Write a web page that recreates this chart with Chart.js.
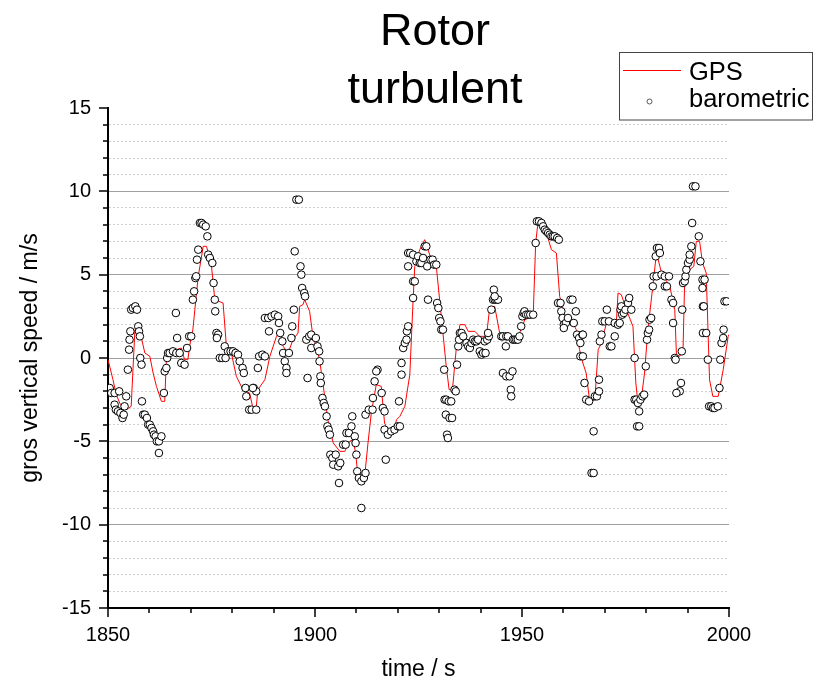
<!DOCTYPE html>
<html>
<head>
<meta charset="utf-8">
<title>Rotor turbulent</title>
<script src="https://cdn.jsdelivr.net/npm/chart.js@4.4.0/dist/chart.umd.min.js"></script>
<style>
  html, body { margin: 0; padding: 0; background: #fff; }
  #chart { display: block; }
</style>
</head>
<body>
<canvas id="chart" width="814" height="683"></canvas>
<script>
const FONT = '"Liberation Sans", Arial, sans-serif';

const titleLines = ['Rotor', 'turbulent'];
const xTitle = 'time / s';
const yTitle = 'gros vertical speed / m/s';
const seriesNames = ['GPS', 'barometric'];

// GPS: time (s) / vertical speed (m/s)
const gpsTime = [
  1850.0,1851.2,1852.0,1853.0,1854.4,1855.6,1856.5,1857.7,1858.9,1860.1,
  1860.9,1861.7,1862.9,1863.7,1864.1,1866.5,1867.7,1868.5,1869.3,1869.7,
  1870.5,1871.3,1871.8,1873.0,1873.8,1875.0,1875.8,1877.8,1878.6,1879.8,
  1881.0,1882.6,1884.2,1885.0,1885.8,1886.2,1887.9,1889.1,1890.7,1891.5,
  1892.3,1893.5,1894.7,1895.9,1896.3,1897.1,1897.5,1898.7,1899.5,1900.3,
  1901.1,1901.9,1903.1,1904.4,1906.0,1907.2,1908.4,1909.2,1909.8,1910.4,
  1911.2,1912.0,1912.8,1913.6,1914.8,1916.0,1916.8,1918.0,1918.8,1919.7,
  1920.5,1921.7,1922.9,1923.7,1924.1,1925.3,1926.5,1927.3,1928.1,1929.3,
  1930.1,1930.9,1931.7,1932.4,1933.2,1934.1,1935.0,1936.2,1937.0,1938.6,
  1939.8,1941.4,1942.2,1943.4,1944.6,1946.2,1948.2,1949.4,1950.7,1952.7,
  1953.3,1953.9,1955.1,1956.5,1957.1,1958.3,1959.1,1959.5,1960.3,1961.5,
  1963.1,1963.9,1964.7,1965.5,1966.2,1966.8,1967.6,1968.4,1969.2,1970.4,
  1972.0,1972.8,1973.2,1974.0,1975.2,1976.8,1977.5,1978.0,1978.8,1979.6,
  1980.4,1981.6,1982.3,1982.9,1983.7,1985.7,1986.9,1987.3,1988.1,1988.9,
  1989.3,1990.5,1991.5,1992.1,1992.9,1993.6,1994.5,1995.3,1996.1,1997.4,
  1998.6,1999.8,2000.0
];
const gpsSpeed = [
  -0.1,-1.3,-2.2,-2.8,-3.1,-2.9,1.7,1.6,0.3,0.1,
  -0.9,-1.7,-2.6,-2.6,-0.1,0.5,0.6,-0.1,-0.1,0.7,
  1.7,3.7,4.9,6.7,6.7,5.5,3.5,3.3,0.7,0.3,
  -1.1,-1.9,-2.1,-3.0,-3.0,-1.9,-1.3,0.1,1.3,1.6,
  0.7,0.3,1.1,1.5,3.1,3.2,3.5,2.8,1.3,0.7,
  -0.1,-1.5,-3.7,-5.1,-5.6,-5.6,-5.0,-4.9,-5.7,-7.1,
  -7.3,-7.1,-5.1,-3.3,-1.6,-1.7,-3.9,-4.6,-4.5,-3.7,
  -3.5,-2.9,-1.0,3.5,5.5,6.5,7.1,6.5,5.9,5.5,
  3.5,1.5,-0.5,-1.9,-1.9,0.5,2.0,2.0,1.6,1.6,
  1.3,1.3,3.0,3.1,1.5,1.3,1.1,1.5,2.3,2.5,
  6.9,8.2,8.2,7.0,6.5,6.3,3.7,3.3,2.5,2.5,
  1.7,0.5,-0.3,-0.9,-2.3,-2.6,-2.5,0.5,0.9,2.1,
  2.2,2.2,3.9,3.8,2.9,1.9,-1.5,-2.7,-2.5,-0.9,
  1.7,4.3,5.9,5.9,5.1,4.3,2.9,0.2,0.1,0.5,
  4.7,5.3,5.5,7.0,7.0,5.7,5.1,-1.3,-2.3,-2.3,
  -0.7,1.3,1.4
];

// barometric: time (s) / vertical speed (m/s)
const baroTime = [
  1850.4,1850.8,1851.6,1852.7,1851.6,1851.9,1852.4,1853.0,1853.5,1853.8,
  1854.0,1854.4,1854.8,1855.1,1855.2,1855.4,1855.6,1856.0,1856.6,1857.0,
  1857.3,1857.5,1857.7,1857.8,1858.1,1858.2,1858.5,1858.9,1859.4,1859.7,
  1860.1,1860.5,1860.9,1861.1,1861.5,1861.8,1862.3,1862.9,1862.3,1863.5,
  1863.7,1864.1,1864.3,1864.5,1864.9,1865.7,1866.5,1867.3,1866.4,1866.7,
  1867.7,1868.5,1869.1,1869.6,1870.1,1870.5,1870.8,1871.1,1871.3,1871.5,
  1871.8,1872.2,1872.6,1873.0,1873.6,1874.0,1874.2,1874.6,1875.2,1875.5,
  1875.8,1875.9,1876.2,1876.6,1876.3,1877.0,1877.6,1878.2,1878.4,1879.0,
  1879.6,1880.2,1880.8,1881.4,1881.8,1882.5,1882.8,1883.2,1883.4,1884.1,
  1884.7,1885.2,1885.8,1885.8,1886.2,1886.5,1885.0,1887.3,1887.9,1887.9,
  1888.7,1889.5,1890.3,1891.1,1888.9,1891.3,1891.6,1892.1,1892.3,1892.7,
  1893.1,1893.1,1893.7,1894.3,1894.5,1894.9,1895.1,1895.5,1896.1,1896.5,
  1896.7,1896.9,1897.4,1897.6,1897.9,1898.6,1899.1,1899.1,1900.2,1900.6,
  1901.0,1898.2,1901.1,1901.3,1901.4,1901.8,1902.1,1902.4,1902.8,1903.0,
  1903.3,1903.6,1903.7,1904.2,1904.4,1905.0,1905.6,1906.1,1905.8,1906.8,
  1907.4,1907.6,1908.2,1908.8,1909.0,1909.6,1909.8,1910.0,1910.2,1910.6,
  1911.2,1911.8,1912.2,1911.2,1912.2,1913.0,1913.9,1914.0,1914.4,1915.1,
  1914.8,1916.1,1916.4,1916.8,1916.8,1917.6,1918.4,1919.2,1920.0,1917.1,
  1920.3,1920.9,1920.9,1921.3,1921.7,1922.1,1922.2,1922.5,1922.5,1922.5,
  1920.5,1923.0,1923.7,1923.7,1923.7,1924.1,1924.5,1924.9,1925.3,1925.7,
  1926.1,1926.5,1926.9,1927.1,1927.3,1927.9,1928.4,1928.8,1929.3,1929.5,
  1929.8,1930.0,1930.3,1930.5,1930.9,1931.2,1931.3,1931.7,1932.3,1932.9,
  1931.6,1932.5,1933.1,1931.9,1932.1,1933.7,1934.0,1934.3,1934.6,1934.8,
  1935.0,1935.4,1935.8,1936.6,1937.0,1937.4,1937.8,1938.2,1938.6,1939.0,
  1939.4,1939.8,1940.2,1940.6,1941.2,1941.0,1941.6,1942.0,1941.8,1942.6,
  1943.0,1943.4,1943.8,1944.2,1943.2,1943.4,1945.0,1945.4,1945.4,1946.2,
  1947.0,1946.1,1946.2,1946.6,1947.3,1947.4,1947.7,1947.8,1948.2,1948.6,
  1949.0,1949.4,1949.8,1950.1,1950.4,1950.6,1951.0,1951.5,1952.0,1952.7,
  1953.3,1953.6,1954.1,1954.7,1955.1,1955.5,1955.9,1956.3,1956.7,1957.1,
  1957.5,1957.9,1958.5,1958.9,1958.7,1959.3,1959.5,1959.8,1960.1,1960.6,
  1961.1,1960.1,1961.7,1962.2,1962.5,1963.0,1963.3,1963.8,1964.1,1964.6,
  1964.7,1964.1,1964.7,1965.1,1965.5,1966.2,1967.3,1967.6,1968.1,1968.6,
  1968.6,1968.8,1969.2,1969.4,1970.0,1970.5,1971.0,1971.2,1971.6,1972.4,
  1972.4,1973.2,1973.6,1973.8,1974.0,1974.2,1974.6,1975.0,1975.6,1975.9,
  1976.4,1977.2,1977.2,1977.6,1978.0,1978.3,1978.6,1979.1,1979.5,1977.8,
  1978.3,1979.9,1980.2,1980.4,1980.7,1980.8,1981.2,1981.6,1981.8,1982.3,
  1982.6,1983.1,1983.3,1982.5,1983.7,1984.5,1985.5,1984.5,1985.0,1986.1,
  1986.5,1986.5,1986.9,1987.1,1988.1,1987.3,1988.4,1988.6,1988.7,1988.9,
  1989.3,1989.5,1989.7,1990.1,1990.5,1990.5,1990.9,1991.1,1991.3,1991.9,
  1992.7,1993.1,1993.6,1994.1,1993.6,1993.7,1993.9,1993.7,1994.5,1994.9,
  1995.2,1995.7,1996.1,1996.5,1997.3,1997.7,1997.9,1998.2,1998.6,1998.7,
  1998.9,1999.4,1966.8,1967.3
];
const baroSpeed = [
  -1.8,-2.1,-2.1,-2.0,-2.8,-3.1,-3.2,-3.3,-3.6,-3.4,
  -2.9,-2.3,-0.7,0.5,1.1,1.6,2.9,3.0,3.1,2.9,
  1.9,1.6,1.3,0.0,-0.4,-2.6,-3.4,-3.4,-3.6,-4.0,
  -4.0,-4.2,-4.4,-4.6,-4.7,-5.0,-5.0,-4.7,-5.7,-2.1,
  -0.8,-0.6,0.0,0.3,0.3,0.4,0.3,0.3,2.7,1.2,
  -0.3,-0.4,0.6,1.3,1.3,3.5,4.0,4.8,4.9,5.9,
  6.5,8.1,8.1,8.0,7.9,7.3,6.2,6.0,5.7,4.5,
  3.5,2.8,1.5,1.4,1.2,0.0,0.0,0.7,0.0,0.4,
  0.4,0.4,0.3,0.2,-0.2,-0.6,-0.9,-1.8,-2.3,-3.1,
  -3.1,-1.8,-2.0,-3.1,-0.6,0.1,-1.8,0.2,0.1,2.4,
  2.4,2.5,2.6,2.5,1.6,2.1,1.5,1.0,0.3,-0.2,
  -0.6,-0.9,0.3,1.2,1.9,2.9,6.4,9.5,9.5,5.5,
  5.0,4.2,3.9,3.7,1.1,1.3,1.4,0.6,1.2,0.7,
  0.4,-1.2,-0.2,-1.1,-1.5,-2.4,-2.7,-2.9,-3.5,-4.1,
  -4.3,-4.6,-5.8,-6.0,-6.4,-5.8,-6.5,-6.3,-7.5,-5.2,
  -5.2,-4.5,-4.5,-4.1,-3.5,-4.7,-5.1,-5.8,-6.8,-7.2,
  -7.4,-7.2,-6.9,-9.0,-3.4,-3.1,-3.1,-2.4,-1.4,-0.7,
  -0.8,-2.1,-3.0,-3.2,-4.3,-4.6,-4.4,-4.3,-4.1,-6.1,
  -2.6,-1.0,-0.3,0.6,0.9,1.1,1.6,1.9,5.5,6.3,
  -4.1,6.3,6.2,4.6,3.6,4.6,5.8,6.1,5.7,5.7,
  6.0,6.7,6.7,5.5,3.5,5.9,5.9,5.6,5.6,3.3,
  3.0,2.4,2.2,1.7,1.7,-0.7,-2.5,-2.5,-2.6,-2.6,
  -3.4,-3.6,-3.6,-4.6,-4.8,-1.9,-2.0,-0.4,0.7,1.1,
  1.5,1.5,1.3,0.9,0.7,0.6,0.9,1.1,1.0,1.0,
  1.1,0.4,0.2,0.3,0.3,1.0,1.1,1.3,1.5,2.9,
  3.5,3.5,3.5,3.5,4.1,3.7,1.3,1.3,-0.9,-1.1,
  -1.1,0.7,1.3,1.3,-1.9,-2.3,-0.8,1.1,1.1,1.1,
  1.1,1.3,1.9,2.5,2.7,2.8,2.6,2.6,2.6,2.6,
  6.9,8.2,8.2,8.1,7.9,7.7,7.6,7.5,7.4,7.3,
  7.3,7.3,7.2,7.1,3.3,3.3,2.8,2.4,2.0,2.1,
  2.4,1.8,3.5,3.5,2.1,2.8,1.4,1.2,0.9,1.4,
  1.4,0.1,0.1,-1.5,-2.5,-2.6,-4.4,-2.3,-2.3,-2.0,
  -1.3,1.0,1.4,2.2,2.2,2.9,2.2,0.7,0.7,1.3,
  2.1,2.0,2.1,2.9,3.1,2.6,2.7,2.9,3.3,3.6,
  2.9,0.0,-2.5,-2.5,-2.7,-3.2,-2.5,-2.3,-2.2,-4.1,
  -4.1,-0.5,1.1,1.5,1.7,2.3,2.4,4.3,4.9,6.1,
  6.6,6.6,6.3,4.9,5.0,4.9,4.9,4.3,4.3,3.5,
  3.3,2.1,0.0,-0.1,-2.0,-2.1,-1.5,0.4,2.9,4.5,
  4.6,4.9,5.3,5.7,5.9,6.2,6.7,8.1,10.3,10.3,
  7.3,5.8,4.7,4.7,4.2,3.1,3.1,1.5,1.5,-0.1,
  -2.9,-2.9,-3.0,-3.0,-2.9,-1.8,-0.1,0.9,1.2,1.7,
  3.4,3.4,-6.9,-6.9
];

const toPoints = (xs, ys) => xs.map((x, i) => ({ x, y: ys[i] }));

// titulo, leyenda y marcas de eje dibujados a mano
const extras = {
  id: 'extras',
  afterDraw(chart) {
    const { ctx, chartArea, scales } = chart;
    ctx.save();

    // marcas de eje (mayores/menores)
    ctx.strokeStyle = '#000';
    ctx.lineWidth = 1.5;
    ctx.beginPath();
    scales.y.ticks.forEach((t) => {
      const py = Math.round(scales.y.getPixelForValue(t.value));
      const len = t.value % 5 === 0 ? 9 : 5;
      ctx.moveTo(chartArea.left - len, py);
      ctx.lineTo(chartArea.left, py);
    });
    scales.x.ticks.forEach((t) => {
      const px = Math.round(scales.x.getPixelForValue(t.value));
      const len = t.value % 50 === 0 ? 9 : 5;
      ctx.moveTo(px, chartArea.bottom);
      ctx.lineTo(px, chartArea.bottom + len);
    });
    ctx.stroke();

    // titulo
    ctx.fillStyle = '#000';
    ctx.textAlign = 'center';
    ctx.textBaseline = 'alphabetic';
    ctx.font = '45px ' + FONT;
    ctx.fillText(titleLines[0], 435, 45);
    ctx.fillText(titleLines[1], 435, 103);

    // leyenda
    ctx.fillStyle = '#fff';
    ctx.fillRect(619.5, 52.5, 193, 67.5);
    ctx.strokeStyle = '#444';
    ctx.lineWidth = 1;
    ctx.strokeRect(619.5, 52.5, 193, 67.5);
    ctx.strokeStyle = 'red';
    ctx.beginPath();
    ctx.moveTo(623, 70.5);
    ctx.lineTo(681, 70.5);
    ctx.stroke();
    ctx.beginPath();
    ctx.arc(649.5, 101.5, 2.5, 0, Math.PI * 2);
    ctx.strokeStyle = '#555';
    ctx.stroke();
    ctx.fillStyle = '#000';
    ctx.textAlign = 'left';
    ctx.font = '25.5px ' + FONT;
    ctx.fillText(seriesNames[0], 689, 80);
    ctx.fillText(seriesNames[1], 689, 107);

    ctx.restore();
  }
};

const tickFont = { family: FONT, size: 20 };
const titleFont = { family: FONT, size: 23 };

new Chart(document.getElementById('chart').getContext('2d'), {
  type: 'scatter',
  data: {
    datasets: [
      {
        label: seriesNames[1],
        data: toPoints(baroTime, baroSpeed),
        showLine: false,
        pointRadius: 3.8,
        pointBackgroundColor: '#fff',
        pointBorderColor: '#000',
        pointBorderWidth: 1,
        order: 0
      },
      {
        label: seriesNames[0],
        type: 'line',
        data: toPoints(gpsTime, gpsSpeed),
        borderColor: 'red',
        borderWidth: 1,
        pointRadius: 0,
        tension: 0,
        fill: false,
        order: 1
      }
    ]
  },
  options: {
    responsive: false,
    animation: false,
    devicePixelRatio: 1,
    layout: { padding: { top: 108, right: 85, bottom: 0, left: 0 } },
    plugins: { legend: { display: false }, title: { display: false }, tooltip: { enabled: false } },
    scales: {
      x: {
        type: 'linear',
        position: 'bottom',
        min: 1850,
        max: 2000,
        afterFit: (s) => { s.height = 75; },
        ticks: {
          stepSize: 10,
          autoSkip: false,
          maxRotation: 0,
          padding: 15,
          color: '#000',
          font: tickFont,
          callback: (v) => (v % 50 === 0 ? String(v) : '')
        },
        grid: { drawOnChartArea: false, drawTicks: false },
        border: { display: true, color: '#000', width: 2 },
        title: { display: true, text: xTitle, color: '#000', font: titleFont, padding: { top: 0, bottom: 0 } }
      },
      y: {
        type: 'linear',
        min: -15,
        max: 15,
        afterFit: (s) => { s.width = 108; },
        ticks: {
          stepSize: 1,
          autoSkip: false,
          padding: 17,
          color: '#000',
          font: tickFont,
          callback: (v) => (v % 5 === 0 ? String(v) : '')
        },
        grid: {
          drawTicks: false,
          lineWidth: 1,
          color: (c) => {
            if (!c.tick) return '#000';
            const v = c.tick.value;
            if (Math.abs(v) === 15) return 'rgba(0,0,0,0)';
            return v % 5 === 0 ? '#a0a0a0' : '#d0d0d0';
          }
        },
        border: {
          display: true,
          color: '#000',
          width: 2,
          dash: (c) => (c.tick && c.tick.value % 5 !== 0 ? [2, 2] : [])
        },
        title: { display: true, text: yTitle, color: '#000', font: titleFont, padding: { top: 17, bottom: 0 } }
      }
    }
  },
  plugins: [extras]
});
</script>
</body>
</html>
